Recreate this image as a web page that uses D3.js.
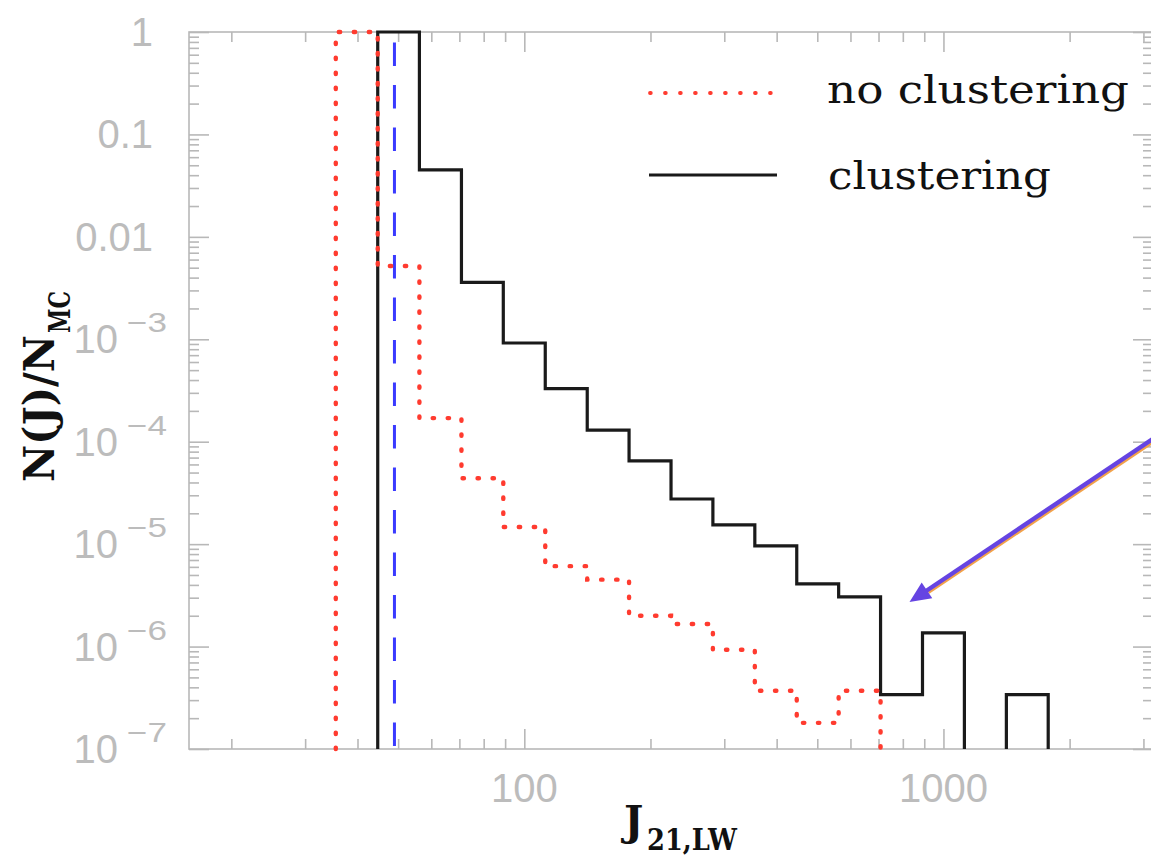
<!DOCTYPE html>
<html>
<head>
<meta charset="utf-8">
<script src="https://cdn.jsdelivr.net/npm/d3@7"></script>
<style>
  body { margin: 0; background: #fff; }
  svg { display: block; }
</style>
</head>
<body>
<svg id="chart" width="1151" height="856"></svg>
<script>
// Histogram bin edges in J_21,LW (0.1 dex bins)
const binEdges = [35.5, 44.7, 56.2, 70.8, 89.1, 112.2, 141.3, 177.8, 223.9, 281.8,
                  354.8, 446.7, 562.3, 707.9, 891.3, 1122, 1413, 1778];
// Fraction of Monte Carlo realisations per bin (0 = empty bin)
const noClustering = [1, 5.2e-3, 1.7e-4, 4.4e-5, 1.47e-5, 6.1e-6, 4.5e-6, 2.0e-6, 1.66e-6,
                      9.3e-7, 3.7e-7, 1.8e-7, 3.7e-7, 0, 0, 0, 0];
const clustering   = [0, 1, 0.045, 3.6e-3, 9.2e-4, 3.3e-4, 1.3e-4, 6.5e-5, 2.76e-5,
                      1.54e-5, 9.6e-6, 4.1e-6, 3.05e-6, 3.4e-7, 1.36e-6, 0, 3.4e-7];
// Vertical reference value of J
const markerJ = 49;
// Tick values and labels
const xMajorTicks = [100, 1000];
const xTickLabels = ["100", "1000"];
const yMajorTicks = [1, 0.1, 0.01, 1e-3, 1e-4, 1e-5, 1e-6, 1e-7];
const yTickLabels = ["1", "0.1", "0.01", "10^−3", "10^−4", "10^−5", "10^−6", "10^−7"];
const legendLabels = ["no clustering", "clustering"];
// Annotation arrow (start, tip) in data units
const arrowStart = { J: 3472, v: 1.38e-4 };
const arrowTip = { J: 830, v: 2.72e-6 };

const W = 1151, H = 856;
const svg = d3.select("#chart");
svg.append("rect").attr("width", W).attr("height", H).attr("fill", "#fff");

const pL = 189, pR = 1153, pT = 32, pB = 749;
const x = d3.scaleLog().domain([15.85, 3162]).range([pL, pR]);
const y = d3.scaleLog().domain([1e-7, 1]).range([pB, pT]);

const axisGray = "#b8b8b8";
const labelGray = "#bcbcbc";
const isDecade = v => Math.abs(Math.log10(v) - Math.round(Math.log10(v))) < 1e-9;

// ---- frame ----
svg.append("rect")
  .attr("x", pL).attr("y", pT)
  .attr("width", pR - pL).attr("height", pB - pT)
  .attr("fill", "none").attr("stroke", axisGray).attr("stroke-width", 1.6);

// ---- ticks on all four sides (inward) ----
const xMinor = x.ticks().filter(v => !isDecade(v));
const yMinor = y.ticks().filter(v => !isDecade(v));

function tickAxis(axisFn, scale, values, size, transform) {
  const g = svg.append("g").attr("transform", transform)
    .call(axisFn(scale).tickValues(values).tickSize(-size).tickFormat(""));
  g.select(".domain").remove();
  g.selectAll(".tick line").attr("stroke", axisGray).attr("stroke-width", 1.6);
  return g;
}
tickAxis(d3.axisBottom, x, xMajorTicks, 20, `translate(0,${pB})`);
tickAxis(d3.axisBottom, x, xMinor, 10, `translate(0,${pB})`);
tickAxis(d3.axisTop, x, xMajorTicks, 20, `translate(0,${pT})`);
tickAxis(d3.axisTop, x, xMinor, 10, `translate(0,${pT})`);
tickAxis(d3.axisLeft, y, yMajorTicks, 20, `translate(${pL},0)`);
tickAxis(d3.axisLeft, y, yMinor, 10, `translate(${pL},0)`);
tickAxis(d3.axisRight, y, yMajorTicks, 20, `translate(${pR},0)`);
tickAxis(d3.axisRight, y, yMinor, 10, `translate(${pR},0)`);

// ---- tick labels ----
const tickFont = "'Liberation Sans', Arial, Helvetica, sans-serif";
yMajorTicks.forEach((v, i) => {
  const lab = yTickLabels[i];
  const yy = y(v);
  if (lab.includes("^")) {
    const [base, exp] = lab.split("^");
    svg.append("text").attr("x", 118).attr("y", yy + 14)
      .attr("text-anchor", "end").attr("font-family", tickFont)
      .attr("font-size", 40).attr("fill", labelGray).text(base);
    svg.append("text").attr("x", 127).attr("y", yy - 7)
      .attr("font-family", tickFont).attr("font-size", 27)
      .attr("textLength", 40).attr("lengthAdjust", "spacingAndGlyphs")
      .attr("fill", labelGray).text(exp);
  } else {
    svg.append("text").attr("x", 153).attr("y", yy + 14)
      .attr("text-anchor", "end").attr("font-family", tickFont)
      .attr("font-size", 40).attr("fill", labelGray).text(lab);
  }
});
xMajorTicks.forEach((v, i) => {
  svg.append("text").attr("x", x(v)).attr("y", 802)
    .attr("text-anchor", "middle").attr("font-family", tickFont)
    .attr("font-size", 40).attr("fill", labelGray).text(xTickLabels[i]);
});

// ---- axis titles ----
const titleFont = "'DejaVu Serif', 'Liberation Serif', serif";
const yTitle = svg.append("g").attr("transform", "translate(54,482) rotate(-90)");
yTitle.append("text").attr("x", 0).attr("y", 0)
  .attr("font-family", titleFont).attr("font-weight", "bold").attr("font-size", 43)
  .attr("textLength", 147).attr("lengthAdjust", "spacingAndGlyphs")
  .attr("fill", "#111").text("N(J)/N");
yTitle.append("text").attr("x", 149).attr("y", 16)
  .attr("font-family", titleFont).attr("font-weight", "bold").attr("font-size", 30)
  .attr("textLength", 42).attr("lengthAdjust", "spacingAndGlyphs")
  .attr("fill", "#111").text("MC");

svg.append("text").attr("x", 624).attr("y", 835)
  .attr("font-family", titleFont).attr("font-weight", "bold").attr("font-size", 41)
  .attr("fill", "#111").text("J");
svg.append("text").attr("x", 647).attr("y", 850)
  .attr("font-family", titleFont).attr("font-weight", "bold").attr("font-size", 30)
  .attr("textLength", 90).attr("lengthAdjust", "spacingAndGlyphs")
  .attr("fill", "#111").text("21,LW");

// ---- histogram step outlines ----
const floorVal = y.domain()[0];
function stepRuns(values) {
  const runs = [];
  let cur = null;
  values.forEach((v, i) => {
    if (v > 0) {
      if (!cur) { cur = [[binEdges[i], floorVal]]; runs.push(cur); }
      cur.push([binEdges[i], v], [binEdges[i + 1], v]);
    } else if (cur) {
      cur.push([binEdges[i], floorVal]);
      cur = null;
    }
  });
  if (cur) cur.push([binEdges[values.length], floorVal]);
  return runs;
}
const stepLine = d3.line().x(d => x(d[0])).y(d => y(d[1]));

const plot = svg.append("g");
// blue dashed reference line
plot.append("line")
  .attr("x1", x(markerJ)).attr("x2", x(markerJ))
  .attr("y1", y(1)).attr("y2", y(floorVal))
  .attr("stroke", "#3a3aff").attr("stroke-width", 3)
  .attr("stroke-dasharray", "23.5 19").attr("stroke-dashoffset", 32);

stepRuns(clustering).forEach(run => {
  plot.append("path").attr("d", stepLine(run))
    .attr("fill", "none").attr("stroke", "#1a1a1a").attr("stroke-width", 3.2)
    .attr("stroke-linejoin", "miter");
});
stepRuns(noClustering).forEach(run => {
  plot.append("path").attr("d", stepLine(run))
    .attr("fill", "none").attr("stroke", "#ff3b2f").attr("stroke-width", 4.4)
    .attr("stroke-linecap", "round").attr("stroke-dasharray", "1.4 13.6");
});

// ---- legend ----
const legendFont = "'DejaVu Serif', 'Liberation Serif', serif";
svg.append("line").attr("x1", 650).attr("x2", 775).attr("y1", 93).attr("y2", 93)
  .attr("stroke", "#ff3b2f").attr("stroke-width", 3.8)
  .attr("stroke-linecap", "round").attr("stroke-dasharray", "0.8 14.2");
svg.append("line").attr("x1", 649).attr("x2", 777).attr("y1", 175).attr("y2", 175)
  .attr("stroke", "#1a1a1a").attr("stroke-width", 3);
svg.append("text").attr("x", 827).attr("y", 103)
  .attr("font-family", legendFont).attr("font-size", 40)
  .attr("textLength", 302).attr("lengthAdjust", "spacingAndGlyphs")
  .attr("fill", "#111").text(legendLabels[0]);
svg.append("text").attr("x", 828).attr("y", 189)
  .attr("font-family", legendFont).attr("font-size", 40)
  .attr("textLength", 223).attr("lengthAdjust", "spacingAndGlyphs")
  .attr("fill", "#111").text(legendLabels[1]);

// ---- annotation arrow ----
const ax0 = x(arrowStart.J), ay0 = y(arrowStart.v);
const ax1 = x(arrowTip.J), ay1 = y(arrowTip.v);
const len = Math.hypot(ax1 - ax0, ay1 - ay0);
const ux = (ax1 - ax0) / len, uy = (ay1 - ay0) / len;
const headLen = 21, headHalf = 9.5;
const bx = ax1 - ux * headLen, by = ay1 - uy * headLen;
svg.append("line")
  .attr("x1", ax0 + 1.2).attr("y1", ay0 + 1.8).attr("x2", bx + 1.2).attr("y2", by + 1.8)
  .attr("stroke", "#f2a24a").attr("stroke-width", 4);
svg.append("line")
  .attr("x1", ax0).attr("y1", ay0).attr("x2", bx + ux * 2).attr("y2", by + uy * 2)
  .attr("stroke", "#6544e2").attr("stroke-width", 4.4);
svg.append("polygon")
  .attr("points", [
    [ax1, ay1],
    [bx - uy * headHalf, by + ux * headHalf],
    [bx + uy * headHalf, by - ux * headHalf]
  ].map(p => p.join(",")).join(" "))
  .attr("fill", "#6544e2");
</script>
</body>
</html>
